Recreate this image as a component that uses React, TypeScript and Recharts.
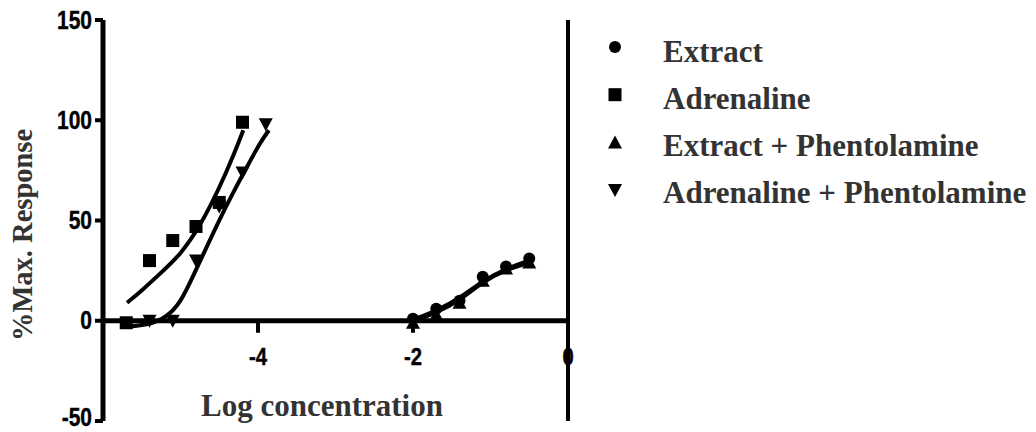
import React from 'react';
import { ComposedChart, Line, Scatter, XAxis, YAxis, ReferenceLine, ReferenceDot } from 'recharts';

// Measured data points (log concentration vs % max response)
const extractX = [-2, -1.7, -1.4, -1.1, -0.8, -0.5];
const extractY = [1, 6, 10, 22, 27, 31];
const extractPhenX = [-2, -1.7, -1.4, -1.1, -0.8, -0.5];
const extractPhenY = [-1, 3, 9, 20, 26, 29];
const adrenalineX = [-5.7, -5.4, -5.1, -4.8, -4.5, -4.2];
const adrenalineY = [-1, 30, 40, 47, 59, 99];
const adrenalinePhenX = [-5.4, -5.1, -4.8, -4.5, -4.2, -3.9];
const adrenalinePhenY = [0, 0, 30, 57, 74, 98];

// Fitted curves
const extractFitX = [-2, -1.7, -1.4, -1.1, -0.8, -0.5];
const extractFitY = [0.5, 5, 11, 20, 26, 30];
const extractPhenFitX = [-2, -1.7, -1.4, -1.1, -0.8, -0.5];
const extractPhenFitY = [-0.5, 4, 10, 19.5, 25.5, 29];
const adrenalineFitX = [-5.69, -5.5, -5.25, -5.0, -4.75, -4.5, -4.3, -4.19];
const adrenalineFitY = [9, 15, 24, 33, 47, 66, 84, 95];
const adrenalinePhenFitX = [-5.72, -5.39, -5.17, -5.0, -4.84, -4.66, -4.49, -4.32, -4.14, -3.97, -3.86];
const adrenalinePhenFitY = [-3, -2, 2, 9, 22, 37, 51, 64, 77, 89, 95];

const yTicks = [-50, 0, 50, 100, 150];
const xTicks = [-4, -2, 0];
const xTickLabels = ['-4', '-2', '0'];

const legendLabels = ['Extract', 'Adrenaline', 'Extract + Phentolamine', 'Adrenaline + Phentolamine'];
const legendShapes = ['circle', 'square', 'up', 'down'];

const toPts = (xs: number[], ys: number[]) => xs.map((x, i) => ({ x, y: ys[i] }));

const SANS = "'Liberation Sans', Arial, Helvetica, sans-serif";
const SERIF = "'Liberation Serif', 'Times New Roman', serif";
const TITLE = '#333333';

const drawShape = (kind: string, cx: number, cy: number) => {
  if (kind === 'circle') return <circle cx={cx} cy={cy} r={6} fill="#000" />;
  if (kind === 'square') return <rect x={cx - 6.5} y={cy - 6.5} width={13} height={13} fill="#000" />;
  if (kind === 'up') return <polygon points={`${cx},${cy - 7} ${cx + 7},${cy + 6} ${cx - 7},${cy + 6}`} fill="#000" />;
  return <polygon points={`${cx - 7},${cy - 6} ${cx + 7},${cy - 6} ${cx},${cy + 7}`} fill="#000" />;
};

const mk = (kind: string) => (p: any) => <g>{drawShape(kind, p.cx, p.cy)}</g>;

const YTick = (p: any) => {
  const isBottom = p.index === 0 || p.payload.value === yTicks[0];
  return (
    <g transform={`translate(${p.x},${p.y}) scale(0.84,1)`}>
      <text
        x={0}
        y={0}
        dy={isBottom ? '0.2em' : '0.34em'}
        textAnchor="end"
        fill="#000"
        fontSize={25}
        fontWeight={700}
        fontFamily={SANS}
        stroke="#000"
        strokeWidth={0.4}
      >
        {p.payload.value}
      </text>
    </g>
  );
};

const xLabelShape = (label: string) => (p: any) => (
  <g transform={`translate(${p.cx},${p.cy}) scale(0.88,1)`}>
    <text x={0} y={0} dy="0.36em" textAnchor="middle" fill="#000" fontSize={23} fontWeight={700} fontFamily={SANS} stroke="#000" strokeWidth={0.4}>
      {label}
    </text>
  </g>
);

const W = 1036;
const H = 432;

export default function App() {
  return (
    <div style={{ position: 'relative', width: W, height: H, background: '#fff' }}>
      <style>{`body{margin:0;}`}</style>
      <ComposedChart width={W} height={H} margin={{ top: 20, right: 468, bottom: 11, left: 43 }}>
        <XAxis type="number" dataKey="x" domain={[-6, 0]} hide allowDataOverflow />
        <YAxis
          type="number"
          dataKey="y"
          domain={[-50, 150]}
          ticks={yTicks}
          interval={0}
          allowDataOverflow
          width={60}
          axisLine={{ stroke: '#000', strokeWidth: 5 }}
          tickLine={{ stroke: '#000', strokeWidth: 4 }}
          tickSize={8}
          tickMargin={3}
          tick={YTick}
        />
        <ReferenceLine y={0} stroke="#000" strokeWidth={5} />
        <ReferenceLine x={0} stroke="#000" strokeWidth={4} />
        {xTicks.map((t) => (
          <ReferenceLine key={'t' + t} segment={[{ x: t, y: 0 }, { x: t, y: -6 }]} stroke="#000" strokeWidth={4} />
        ))}
        {xTicks.map((t, i) => (
          <ReferenceDot key={'l' + t} x={t} y={-18} r={4} shape={xLabelShape(xTickLabels[i])} />
        ))}
        <Line data={toPts(extractFitX, extractFitY)} dataKey="y" type="basis" dot={false} stroke="#000" strokeWidth={4} isAnimationActive={false} />
        <Line data={toPts(extractPhenFitX, extractPhenFitY)} dataKey="y" type="basis" dot={false} stroke="#000" strokeWidth={4} isAnimationActive={false} />
        <Line data={toPts(adrenalineFitX, adrenalineFitY)} dataKey="y" type="basis" dot={false} stroke="#000" strokeWidth={4} isAnimationActive={false} />
        <Line data={toPts(adrenalinePhenFitX, adrenalinePhenFitY)} dataKey="y" type="basis" dot={false} stroke="#000" strokeWidth={4} isAnimationActive={false} />
        <Scatter data={toPts(extractPhenX, extractPhenY)} dataKey="y" shape={mk('up')} isAnimationActive={false} />
        <Scatter data={toPts(extractX, extractY)} dataKey="y" shape={mk('circle')} isAnimationActive={false} />
        <Scatter data={toPts(adrenalinePhenX, adrenalinePhenY)} dataKey="y" shape={mk('down')} isAnimationActive={false} />
        <Scatter data={toPts(adrenalineX, adrenalineY)} dataKey="y" shape={mk('square')} isAnimationActive={false} />
      </ComposedChart>
      <svg width={W} height={H} style={{ position: 'absolute', left: 0, top: 0, pointerEvents: 'none' }}>
        <text
          transform="translate(32,235) rotate(-90)"
          textAnchor="middle"
          fontFamily={SERIF}
          fontWeight={700}
          fontSize={28.5}
          fill={TITLE}
        >
          %Max. Response
        </text>
        <text x={322} y={416} textAnchor="middle" fontFamily={SERIF} fontWeight={700} fontSize={31} fill={TITLE}>
          Log concentration
        </text>
        {legendLabels.map((lab, i) => (
          <g key={lab}>
            {drawShape(legendShapes[i], 615, 47 + i * 47.7)}
            <text x={663} y={62 + i * 47} fontFamily={SERIF} fontWeight={700} fontSize={31} fill={TITLE}>
              {lab}
            </text>
          </g>
        ))}
      </svg>
    </div>
  );
}
